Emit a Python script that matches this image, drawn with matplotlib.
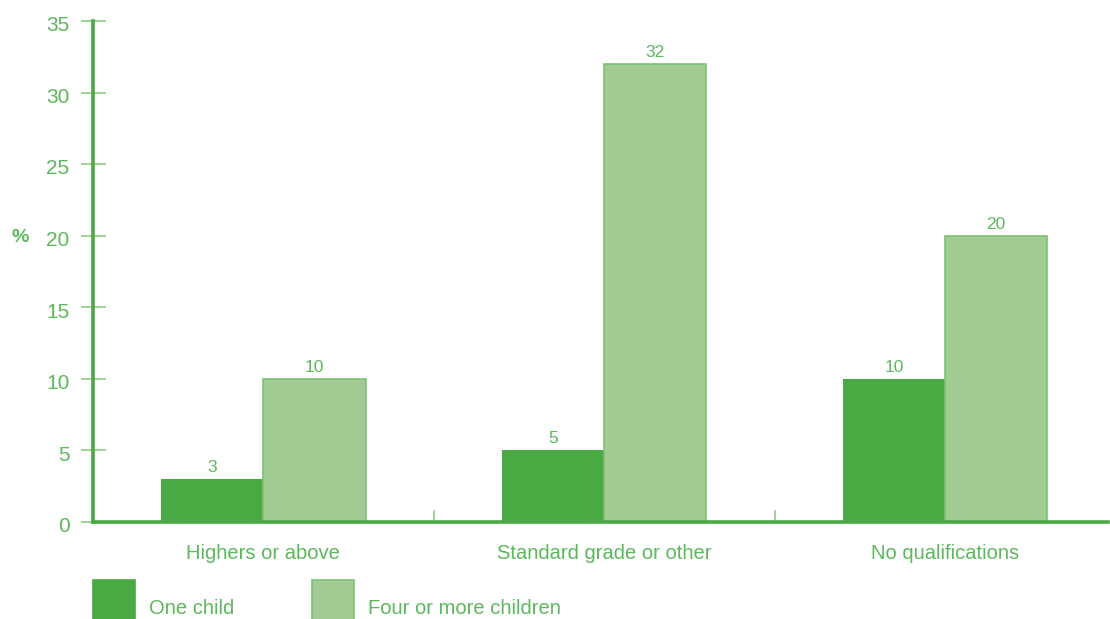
import matplotlib
matplotlib.use("Agg")
import matplotlib.pyplot as plt
from matplotlib.patches import Rectangle
from matplotlib.transforms import ScaledTranslation
import numpy as np

categories = ["Highers or above", "Standard grade or other", "No qualifications"]
series_names = ["One child", "Four or more children"]
one_child = [3, 5, 10]
four_more = [10, 32, 20]
yticks = [0, 5, 10, 15, 20, 25, 30, 35]

dark = "#49a942"
light = "#a3cc94"
light_edge = "#7cc272"
tick_col = "#8fcc86"
txt = "#5cb85c"

plt.rcParams["font.family"] = ["Liberation Sans", "DejaVu Sans"]


def main():
    fig = plt.figure(figsize=(11.1, 6.19), dpi=100)
    ax = fig.add_axes([93 / 1110, 97 / 619, 1015 / 1110, 501 / 619])

    x = np.arange(len(categories))
    w = 0.3
    b1 = ax.bar(x - w / 2, one_child, w, color=dark, linewidth=0)
    b2 = ax.bar(x + w / 2, four_more, w, color=light, edgecolor=light_edge, linewidth=1.2)

    for bars, vals in [(b1, one_child), (b2, four_more)]:
        for r, v in zip(bars, vals):
            ax.annotate(str(v), (r.get_x() + r.get_width() / 2, v),
                        xytext=(0, 3), textcoords="offset points",
                        ha="center", va="bottom", fontsize=12.5, color=txt)

    ax.set_xlim(-0.5, 2.478)
    ax.set_ylim(0, 35)
    ax.set_yticks(yticks)
    ax.tick_params(axis="y", direction="inout", length=18, width=1.2,
                   colors=tick_col, labelcolor=txt, labelsize=15, pad=8)
    # labels sit a little below their tick in the original
    shift = ScaledTranslation(0, -2 / 72, fig.dpi_scale_trans)
    for lab in ax.get_yticklabels():
        lab.set_transform(lab.get_transform() + shift)
    ax.set_xticks(x)
    ax.set_xticklabels(categories)
    ax.tick_params(axis="x", length=0, labelsize=14.5, labelcolor=txt, pad=16)

    # separators between groups
    for s in [0.5, 1.5]:
        ax.plot([s, s], [0, 0.8], color=tick_col, lw=1.2, clip_on=False)

    for sp in ["top", "right"]:
        ax.spines[sp].set_visible(False)
    for sp in ["left", "bottom"]:
        ax.spines[sp].set_color(dark)
        ax.spines[sp].set_linewidth(2.6)

    fig.text(20 / 1110, 1 - 237 / 619, "%", fontsize=14, fontweight="bold",
             color=txt, ha="center", va="center")

    # legend
    for xs, col, ec, name in [(93, dark, dark, series_names[0]),
                              (312, light, light_edge, series_names[1])]:
        fig.patches.append(Rectangle((xs / 1110, -0.02), 42 / 1110, (619 - 580) / 619 + 0.02,
                                     transform=fig.transFigure, facecolor=col,
                                     edgecolor=ec, linewidth=1.2))
        fig.text((xs + 56) / 1110, 1 - 608 / 619, name, fontsize=14.5, color=txt,
                 ha="left", va="center")

    fig.savefig("out.png", dpi=100)


if __name__ == "__main__":
    main()
